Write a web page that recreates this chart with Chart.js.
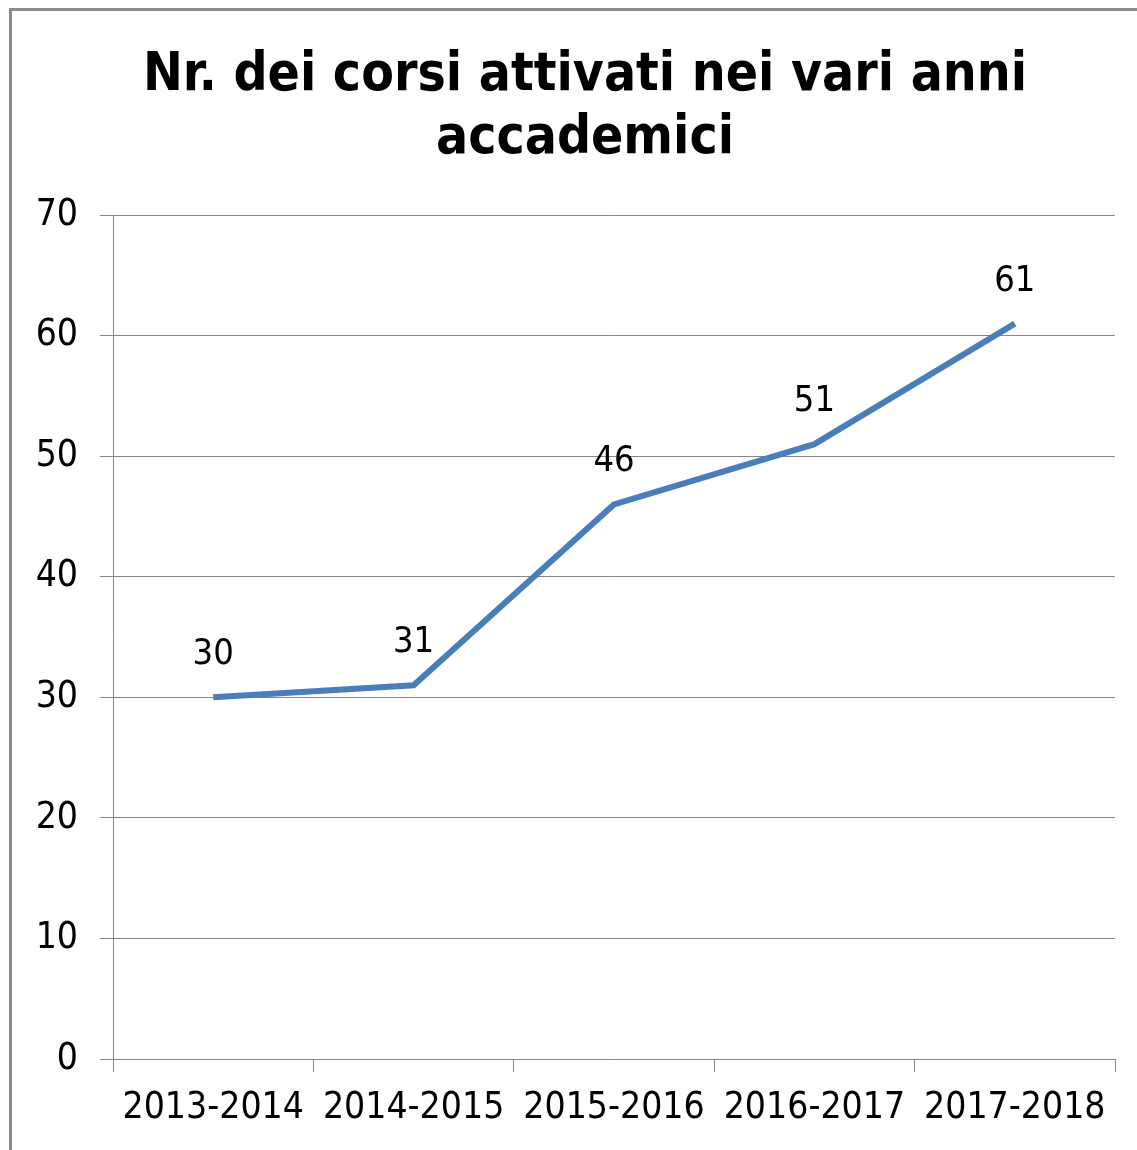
<!DOCTYPE html>
<html>
<head>
<meta charset="utf-8">
<script src="https://cdn.jsdelivr.net/npm/chart.js@4"></script>
<style>
  html, body { margin: 0; padding: 0; background: #fff; overflow: hidden; }
  #cornice { position: absolute; left: 9px; top: 8px; width: 1200px; height: 1200px;
             border-left: 3px solid #8c8c8c; border-top: 3px solid #8c8c8c; }
  #wrap { position: absolute; left: 0; top: 0; width: 1137px; height: 1150px; }
</style>
</head>
<body>
<div id="cornice"></div>
<div id="wrap"><canvas id="chartCorsi"></canvas></div>
<script>
const anni = ["2013-2014", "2014-2015", "2015-2016", "2016-2017", "2017-2018"];
const corsi = [30, 31, 46, 51, 61];
const titolo = ["Nr. dei corsi attivati nei vari anni", "accademici"];

const famiglia = "'DejaVu Sans Condensed', 'DejaVu Sans', sans-serif";

// etichette dei valori sopra ogni punto
const etichetteValori = {
  id: "etichetteValori",
  afterDatasetsDraw(chart) {
    const ctx = chart.ctx;
    const meta = chart.getDatasetMeta(0);
    ctx.save();
    ctx.font = "36px " + famiglia;
    ctx.fillStyle = "#000";
    ctx.textAlign = "center";
    ctx.textBaseline = "alphabetic";
    meta.data.forEach((punto, i) => {
      ctx.fillText(String(corsi[i]), punto.x, punto.y - 33);
    });
    ctx.restore();
  }
};

// il titolo è centrato tra x=55 e il bordo destro del grafico
const titoloSpostato = {
  id: "titoloSpostato",
  afterLayout(chart) {
    if (chart.titleBlock) chart.titleBlock.left = 55;
  }
};

new Chart(document.getElementById("chartCorsi"), {
  type: "line",
  data: {
    labels: anni,
    datasets: [{
      data: corsi,
      borderColor: "#4a7ebb",
      borderWidth: 6,
      pointRadius: 0,
      tension: 0,
      fill: false
    }]
  },
  options: {
    responsive: true,
    maintainAspectRatio: false,
    animation: false,
    layout: { padding: { left: 0, right: 22, top: 0, bottom: 0 } },
    plugins: {
      legend: { display: false },
      tooltip: { enabled: false },
      title: {
        display: true,
        text: titolo,
        color: "#000",
        font: { family: famiglia, size: 53, weight: "bold", lineHeight: 1.19 },
        padding: { top: 45, bottom: 44 }
      }
    },
    scales: {
      x: {
        offset: true,
        grid: { offset: true, drawOnChartArea: false, drawTicks: true, tickLength: 13, color: "#868686", lineWidth: 1 },
        border: { display: true, color: "#868686", width: 1 },
        ticks: { color: "#000", font: { family: famiglia, size: 37 }, padding: 14, maxRotation: 0, autoSkip: false },
        afterFit(scala) { scala.height = 91; }
      },
      y: {
        min: 0,
        max: 70,
        grid: { color: "#868686", lineWidth: 1, tickLength: 13 },
        border: { display: true, color: "#868686", width: 1 },
        ticks: { stepSize: 10, color: "#000", font: { family: famiglia, size: 37 }, padding: 22 },
        afterFit(scala) { scala.width = 113; }
      }
    }
  },
  plugins: [etichetteValori, titoloSpostato]
});
</script>
</body>
</html>
